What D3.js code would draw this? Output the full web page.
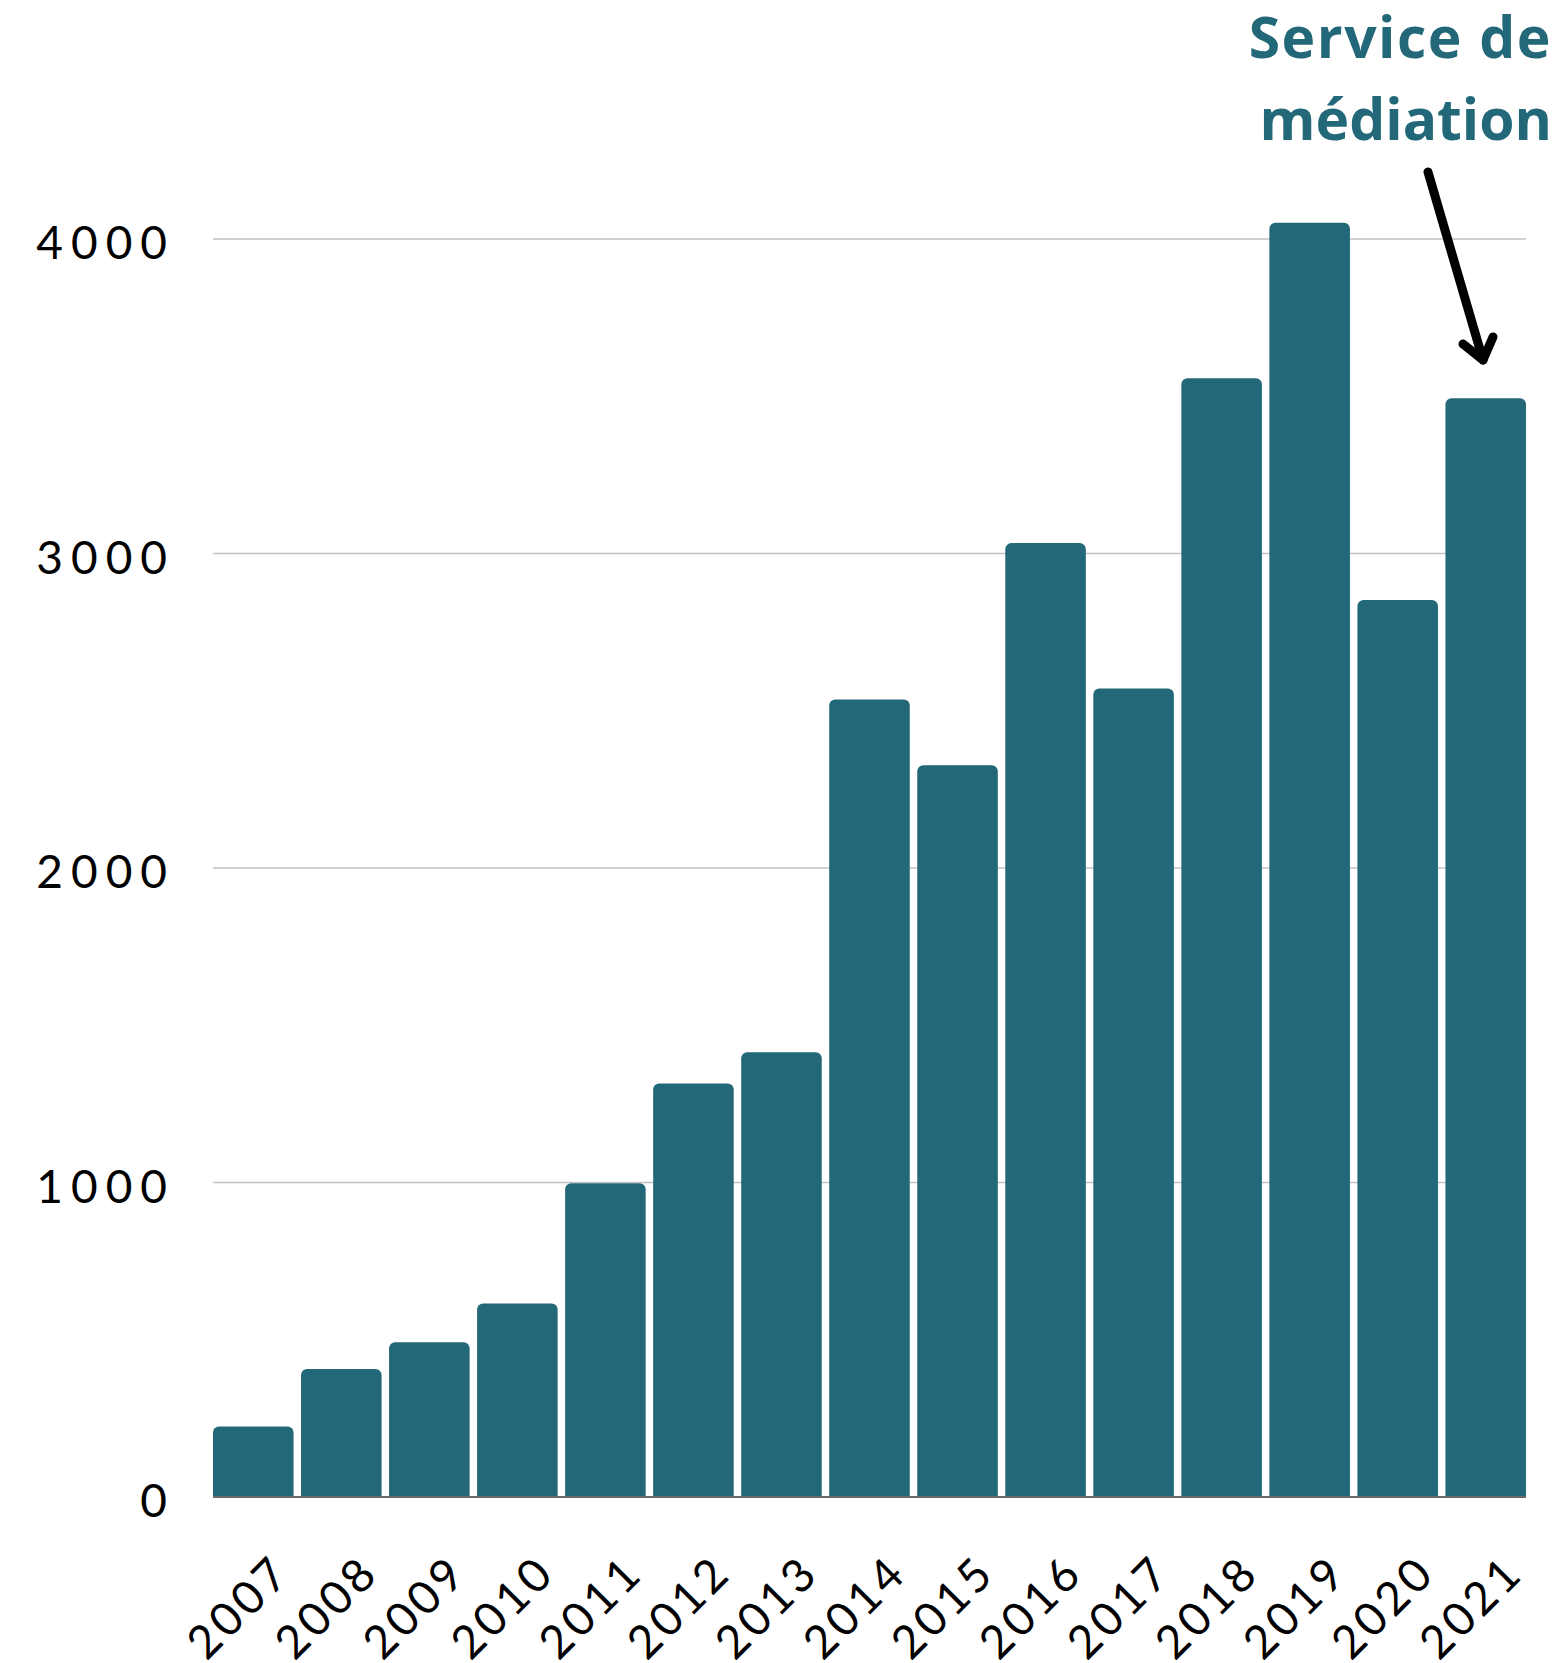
<!DOCTYPE html>
<html lang="fr">
<head>
  <meta charset="utf-8">
  <script src="https://d3js.org/d3.v7.min.js"></script>
  <style>
    html, body { margin: 0; padding: 0; background: #fff; }
    svg { display: block; }
    .tick-label { font-family: Lato, sans-serif; font-weight: 400; fill: #000; }
    .note { font-family: "Open Sans", sans-serif; font-weight: 700; fill: #236878; }
  </style>
</head>
<body>
  <svg width="1564" height="1663"></svg>

  <script>
    const width = 1564, height = 1663;

    // data
    const years = ["2007", "2008", "2009", "2010", "2011", "2012", "2013", "2014",
                   "2015", "2016", "2017", "2018", "2019", "2020", "2021"];
    const counts = [224, 407, 492, 615, 998, 1315, 1414, 2536,
                    2327, 3033, 2571, 3557, 4052, 2852, 3494];
    const yTicks = [0, 1000, 2000, 3000, 4000];
    const noteLines = ["Service de", "médiation"];

    const barColor = "#236878";
    const plot = { left: 213, right: 1526, top: 239, bottom: 1497 };

    const svg = d3.select("svg");

    const x = d3.scaleBand()
      .domain(years)
      .range([plot.left, plot.right])
      .paddingInner(0.085)
      .paddingOuter(0);

    const y = d3.scaleLinear()
      .domain([0, 4000])
      .range([plot.bottom, plot.top]);

    // gridlines
    svg.append("g").selectAll("line")
      .data(yTicks.filter(d => d > 0))
      .enter().append("line")
      .attr("x1", plot.left).attr("x2", plot.right)
      .attr("y1", d => y(d)).attr("y2", d => y(d))
      .attr("stroke", "#c2c2c2")
      .attr("stroke-width", 1.5);

    // y labels
    svg.append("g").selectAll("text")
      .data(yTicks)
      .enter().append("text")
      .attr("class", "tick-label")
      .attr("x", 175)
      .attr("y", d => y(d) + 4)
      .attr("dy", "0.35em")
      .attr("text-anchor", "end")
      .style("font-size", "46px")
      .style("letter-spacing", "8px")
      .text(d => d);

    // bars with rounded top corners
    function barPath(x0, y0, w, h, r) {
      r = Math.min(r, h, w / 2);
      const p = d3.path();
      p.moveTo(x0, y0 + h);
      p.lineTo(x0, y0 + r);
      p.arcTo(x0, y0, x0 + r, y0, r);
      p.lineTo(x0 + w - r, y0);
      p.arcTo(x0 + w, y0, x0 + w, y0 + r, r);
      p.lineTo(x0 + w, y0 + h);
      p.closePath();
      return p.toString();
    }

    svg.append("g").selectAll("path")
      .data(years.map((yr, i) => ({ year: yr, value: counts[i] })))
      .enter().append("path")
      .attr("d", d => barPath(x(d.year), y(d.value), x.bandwidth(), y(0) - y(d.value), 6))
      .attr("fill", barColor);

    // baseline
    svg.append("line")
      .attr("x1", plot.left).attr("x2", plot.right)
      .attr("y1", y(0)).attr("y2", y(0))
      .attr("stroke", "#6a6a6a")
      .attr("stroke-width", 2);

    // x labels, rotated
    svg.append("g").selectAll("text")
      .data(years)
      .enter().append("text")
      .attr("class", "tick-label")
      .attr("text-anchor", "end")
      .style("font-size", "46px")
      .style("letter-spacing", "4px")
      .attr("transform", d => `translate(${x(d) + x.bandwidth() / 2 + 40},${plot.bottom + 78}) rotate(-45)`)
      .text(d => d);

    // annotation
    svg.append("g").selectAll("text")
      .data(noteLines)
      .enter().append("text")
      .attr("class", "note")
      .attr("x", 1552)
      .attr("y", (d, i) => 58 + i * 82)
      .attr("text-anchor", "end")
      .style("font-size", "57px")
      .style("letter-spacing", (d, i) => i === 0 ? "1.5px" : "0px")
      .text(d => d);

    // arrow
    const arrow = svg.append("g")
      .attr("stroke", "#000")
      .attr("stroke-width", 9)
      .attr("stroke-linecap", "round")
      .attr("stroke-linejoin", "round")
      .attr("fill", "none");
    arrow.append("line")
      .attr("x1", 1428).attr("y1", 172)
      .attr("x2", 1483).attr("y2", 360);
    arrow.append("polyline")
      .attr("points", "1463,344 1483,360 1493,337");
  </script>
</body>
</html>
